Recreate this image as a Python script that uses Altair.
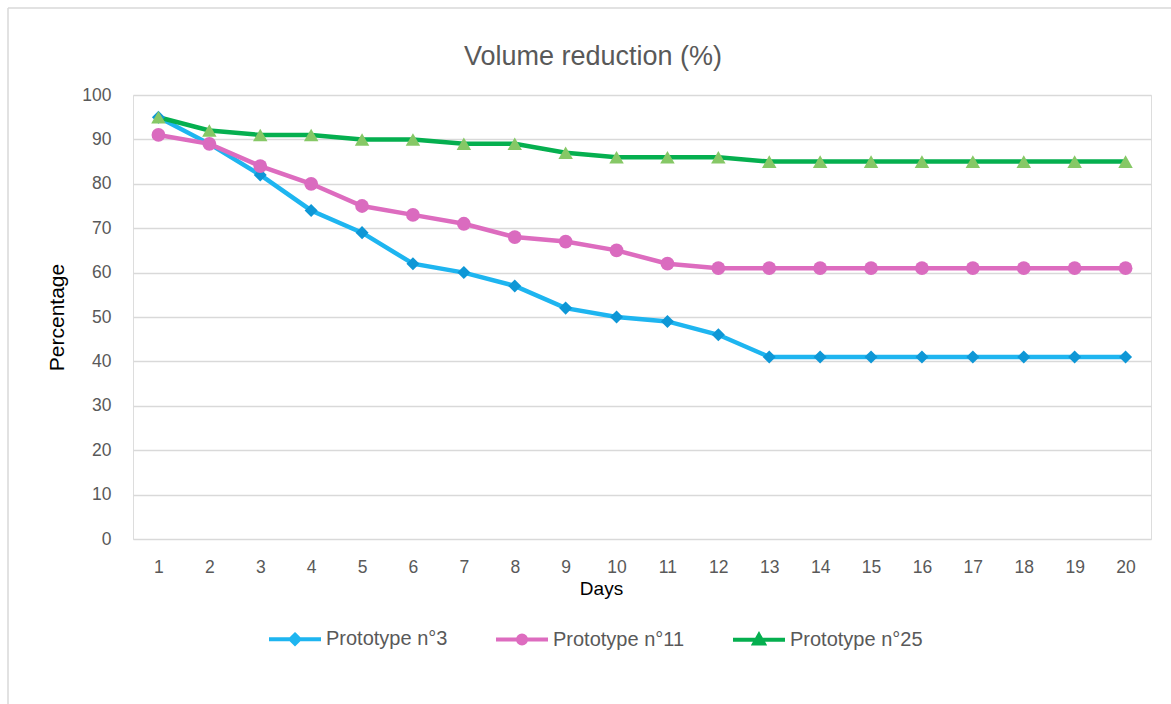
import altair as alt
import pandas as pd

days = list(range(1, 21))
series_names = ["Prototype n°3", "Prototype n°11", "Prototype n°25"]
p3 = [95, 89, 82, 74, 69, 62, 60, 57, 52, 50, 49, 46, 41, 41, 41, 41, 41, 41, 41, 41]
p11 = [91, 89, 84, 80, 75, 73, 71, 68, 67, 65, 62, 61, 61, 61, 61, 61, 61, 61, 61, 61]
p25 = [95, 92, 91, 91, 90, 90, 89, 89, 87, 86, 86, 86, 85, 85, 85, 85, 85, 85, 85, 85]
y_ticks = list(range(0, 101, 10))

line_colors = ["#1EB5F0", "#DD6CBF", "#05AF4F"]
marker_colors = ["#0E97D6", "#DA6BBF", "#86C866"]
marker_shapes = ["diamond", "circle", "triangle-up"]
marker_sizes = [170, 190, 210]
legend_shapes = [
    "M-5.2,0H5.2M0,-0.9L0.9,0L0,0.9L-0.9,0Z",
    "M-5.2,0H5.2M-0.8,0A0.8,0.8,0,1,1,0.8,0A0.8,0.8,0,1,1,-0.8,0Z",
    "M-5.2,0H5.2M0,-0.9L0.95,0.75L-0.95,0.75Z",
]

rows = []
for name, vals in zip(series_names, [p3, p11, p25]):
    for d, v in zip(days, vals):
        rows.append({"Day": d, "Value": v, "Series": name})
df = pd.DataFrame(rows)

FONT = "Liberation Sans"

x_enc = alt.X(
    "Day:O",
    sort=days,
    scale=alt.Scale(padding=0.5),
    axis=alt.Axis(
        title="Days", labelAngle=0, ticks=False, domain=False, grid=False,
        labelFontSize=17.5, labelColor="#595959", labelFont=FONT, labelPadding=19,
        titleFontSize=19, titleColor="#000000", titleFont=FONT, titleFontWeight="normal",
        titleX=468, titleY=49, titleBaseline="middle",
    ),
)
y_enc = alt.Y(
    "Value:Q",
    scale=alt.Scale(domain=[0, 100], nice=False),
    axis=alt.Axis(
        title="Percentage", values=y_ticks, ticks=False, domain=False,
        grid=True, gridColor="#D9D9D9", gridWidth=1.6,
        labelFontSize=17.5, labelColor="#595959", labelFont=FONT, labelPadding=22,
        titleFontSize=21, titleColor="#000000", titleFont=FONT, titleFontWeight="normal",
        titleX=-76, titleY=222, titleBaseline="middle", titleAngle=-90,
    ),
)

legend_def = alt.Legend(
    title=None, orient="none", direction="horizontal", columns=3,
    legendX=152, legendY=534, padding=0,
    symbolSize=100, symbolStrokeWidth=4, symbolOpacity=1,
    labelOffset=21, labelFontSize=20, labelColor="#595959", labelFont=FONT,
    columnPadding=40, gridAlign="each",
)

stroke_enc = alt.Stroke("Series:N", sort=series_names,
                        scale=alt.Scale(domain=series_names, range=line_colors),
                        legend=legend_def)
fill_enc = alt.Fill("Series:N", sort=series_names,
                    scale=alt.Scale(domain=series_names, range=marker_colors),
                    legend=legend_def)
shape_enc = alt.Shape("Series:N", sort=series_names,
                      scale=alt.Scale(domain=series_names, range=legend_shapes),
                      legend=legend_def)

base = alt.Chart(df)

lines = base.mark_line(strokeWidth=4.5).encode(
    x=x_enc, y=y_enc, stroke=stroke_enc, detail="Series:N",
)

point_layers = []
for name, col, shp, sz in zip(series_names, marker_colors, marker_shapes, marker_sizes):
    point_layers.append(
        base.transform_filter(alt.datum.Series == name)
        .mark_point(filled=True, size=sz, opacity=1, strokeWidth=0, color=col, shape=shp)
        .encode(x=x_enc, y=y_enc)
    )

legend_layer = base.mark_point(filled=True, size=100, opacity=0, strokeWidth=4).encode(
    x=x_enc, y=y_enc, fill=fill_enc, stroke=stroke_enc, shape=shape_enc,
)

frame_data = alt.Data(values=[{"k": 1}])
frame_top = alt.Chart(frame_data).mark_rule(color="#D9D9D9", strokeWidth=1.5).encode(
    x=alt.value(-125), x2=alt.value(1100), y=alt.value(-87)
)
frame_left = alt.Chart(frame_data).mark_rule(color="#D9D9D9", strokeWidth=1.5).encode(
    x=alt.value(-125), y=alt.value(-87), y2=alt.value(700)
)

chart = alt.layer(frame_top, frame_left, lines, *point_layers, legend_layer).properties(
    width=1018,
    height=444,
    title=alt.TitleParams(
        "Volume reduction (%)", fontSize=27, color="#595959", font=FONT,
        fontWeight="normal", anchor="middle", frame="group", dx=-49, offset=-64,
    ),
    autosize=alt.AutoSizeParams(type="none"),
    padding={"left": 133, "top": 95, "right": 20, "bottom": 165},
).configure_view(stroke=None).configure(background="white")

chart.save("out.html", embed_options={"renderer": "svg", "actions": False})
